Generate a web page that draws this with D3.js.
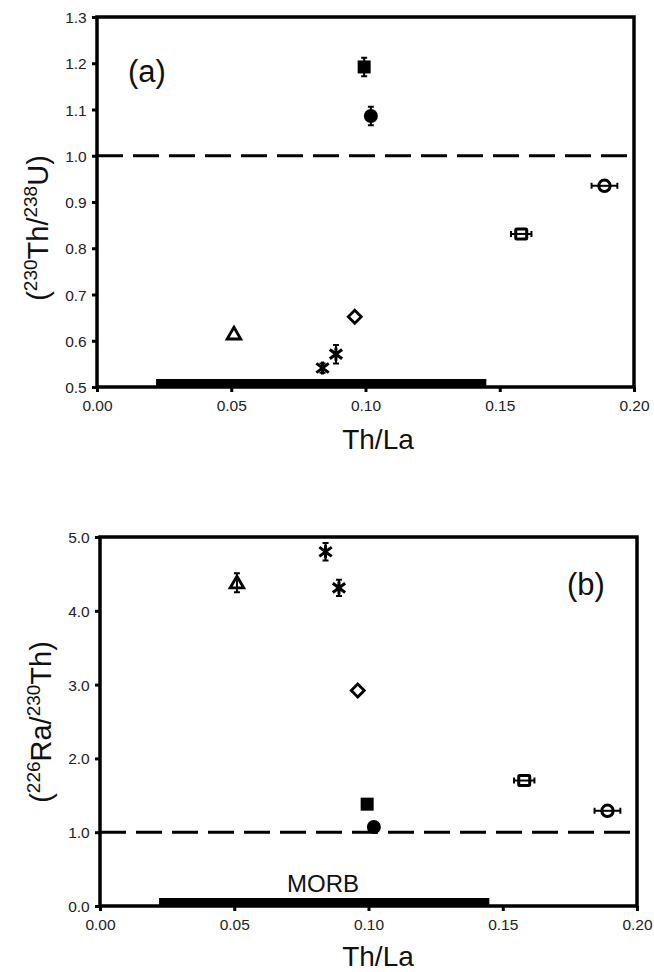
<!DOCTYPE html>
<html>
<head>
<meta charset="utf-8">
<script src="https://cdn.jsdelivr.net/npm/d3@7"></script>
<style>
  body { margin: 0; background: #fff; }
  svg { display: block; font-family: "Liberation Sans", Arial, sans-serif; }
</style>
</head>
<body>
<svg width="654" height="972"></svg>
<script>
// samples, in drawing order
const symbols  = ["triangle", "star", "star", "diamond", "squareFilled", "circleFilled", "squareOpen", "circleOpen"];
const thLa     = [0.051, 0.084, 0.089, 0.096, 0.0995, 0.102, 0.158, 0.189];
const thLaErr  = [0, 0, 0, 0, 0, 0, 0.0038, 0.0048];
const thU      = [0.615, 0.541, 0.571, 0.652, 1.192, 1.086, 0.831, 0.935];
const thUErr   = [0, 0.01, 0.02, 0, 0.02, 0.02, 0, 0];
const raTh     = [4.38, 4.80, 4.31, 2.92, 1.38, 1.07, 1.70, 1.29];
const raThErr  = [0.13, 0.12, 0.11, 0, 0, 0, 0, 0];
const morbRange = [0.022, 0.145];
const xTicks   = [0, 0.05, 0.10, 0.15, 0.20];
const yTicksA  = [0.5, 0.6, 0.7, 0.8, 0.9, 1.0, 1.1, 1.2, 1.3];
const yTicksB  = [0, 1, 2, 3, 4, 5];

const svg = d3.select("svg");

const panels = [
  {label: "(a)", labelPos: [128, 82], box: {left: 97, right: 634, top: 17, bottom: 387},
   y: thU, yErr: thUErr, yDomain: [0.5, 1.3], yTicks: yTicksA, yFmt: d3.format(".1f"),
   yTitle: ["(", "230", "Th/", "238", "U)"], yTitleX: 48, yTitleY: 228, titleY: 449, morbText: false},
  {label: "(b)", labelPos: [567, 595], box: {left: 100, right: 637, top: 537, bottom: 906},
   y: raTh, yErr: raThErr, yDomain: [0, 5], yTicks: yTicksB, yFmt: d3.format(".1f"),
   yTitle: ["(", "226", "Ra/", "230", "Th)"], yTitleX: 51, yTitleY: 722, titleY: 966, morbText: true}
];

function drawSymbol(g, type) {
  const s = 6.5;
  if (type === "triangle") {
    g.append("path").attr("d", `M0,${-s} L${s * 1.05},${s * 0.8} L${-s * 1.05},${s * 0.8} Z`)
      .attr("fill", "#fff").attr("stroke", "#000").attr("stroke-width", 2.8).attr("stroke-linejoin", "miter");
  } else if (type === "star") {
    const a = s * 0.95;
    g.append("path")
      .attr("d", `M${-a},${-a * 0.75} L${a},${a * 0.75} M${-a},${a * 0.75} L${a},${-a * 0.75} M0,${-a * 1.05} L0,${a * 1.05}`)
      .attr("stroke", "#000").attr("stroke-width", 3).attr("fill", "none");
  } else if (type === "diamond") {
    g.append("path").attr("d", `M0,${-s} L${s},0 L0,${s} L${-s},0 Z`)
      .attr("fill", "#fff").attr("stroke", "#000").attr("stroke-width", 2.8);
  } else if (type === "squareFilled") {
    g.append("rect").attr("x", -s).attr("y", -s).attr("width", 2 * s).attr("height", 2 * s).attr("fill", "#000");
  } else if (type === "circleFilled") {
    g.append("circle").attr("r", s + 0.5).attr("fill", "#000");
  } else if (type === "squareOpen") {
    g.append("rect").attr("x", -s + 1).attr("y", -s + 1.5).attr("width", 2 * s - 2).attr("height", 2 * s - 3)
      .attr("rx", 1).attr("fill", "#fff").attr("stroke", "#000").attr("stroke-width", 3);
  } else if (type === "circleOpen") {
    g.append("circle").attr("r", s - 0.8).attr("fill", "#fff").attr("stroke", "#000").attr("stroke-width", 3);
  }
}

panels.forEach(p => {
  const b = p.box;
  const x = d3.scaleLinear().domain([0, 0.2]).range([b.left, b.right]);
  const y = d3.scaleLinear().domain(p.yDomain).range([b.bottom, b.top]);
  const g = svg.append("g");

  // reference line at 1
  g.append("line")
    .attr("x1", b.left).attr("x2", b.right).attr("y1", y(1)).attr("y2", y(1))
    .attr("stroke", "#000").attr("stroke-width", 3).attr("stroke-dasharray", "26,10");

  // MORB range bar
  g.append("rect")
    .attr("x", x(morbRange[0])).attr("width", x(morbRange[1]) - x(morbRange[0]))
    .attr("y", b.bottom - 8).attr("height", 8).attr("fill", "#000");
  if (p.morbText) {
    g.append("text").attr("x", 323).attr("y", b.bottom - 14).attr("text-anchor", "middle")
      .attr("font-size", 24).attr("fill", "#111").text("MORB");
  }

  // axes
  const xAxis = d3.axisBottom(x).tickValues(xTicks).tickFormat(d3.format(".2f")).tickSize(5).tickSizeOuter(0);
  const yAxis = d3.axisLeft(y).tickValues(p.yTicks).tickFormat(p.yFmt).tickSize(5).tickSizeOuter(0);

  const gx = g.append("g").attr("transform", `translate(0,${b.bottom})`).call(xAxis);
  const gy = g.append("g").attr("transform", `translate(${b.left},0)`).call(yAxis);
  [gx, gy].forEach(ax => {
    ax.select(".domain").remove();
    ax.selectAll(".tick line").attr("stroke", "#000").attr("stroke-width", 3);
    ax.selectAll(".tick text").attr("font-size", 15.5).attr("fill", "#222")
      .attr("font-family", "Liberation Sans, Arial, sans-serif");
  });
  gx.selectAll(".tick text").attr("dy", "1.05em");
  gy.selectAll(".tick text").attr("dx", "-0.15em").attr("dy", "0.36em");

  // frame
  g.append("rect").attr("x", b.left).attr("y", b.top)
    .attr("width", b.right - b.left).attr("height", b.bottom - b.top)
    .attr("fill", "none").attr("stroke", "#000").attr("stroke-width", 3.5);

  // points with error bars
  const pts = g.selectAll(".pt").data(symbols.map((s, i) => ({
      type: s, x: thLa[i], xe: thLaErr[i], y: p.y[i], ye: p.yErr[i]})))
    .join("g").attr("class", "pt");

  pts.each(function(d) {
    const e = d3.select(this);
    const cx = x(d.x), cy = y(d.y);
    if (d.ye > 0) {
      const y0 = y(d.y - d.ye), y1 = y(d.y + d.ye);
      e.append("path").attr("d", `M${cx},${y0} L${cx},${y1} M${cx - 3},${y0} L${cx + 3},${y0} M${cx - 3},${y1} L${cx + 3},${y1}`)
        .attr("stroke", "#000").attr("stroke-width", 2).attr("fill", "none");
    }
    if (d.xe > 0) {
      const x0 = x(d.x - d.xe), x1 = x(d.x + d.xe);
      e.append("path").attr("d", `M${x0},${cy} L${x1},${cy} M${x0},${cy - 3} L${x0},${cy + 3} M${x1},${cy - 3} L${x1},${cy + 3}`)
        .attr("stroke", "#000").attr("stroke-width", 2).attr("fill", "none");
    }
    const m = e.append("g").attr("transform", `translate(${cx},${cy})`);
    drawSymbol(m, d.type);
    if (d.xe > 0) {
      m.append("line").attr("x1", -5).attr("x2", 5).attr("stroke", "#000").attr("stroke-width", 2);
    }
    if (d.type === "triangle" && d.ye > 0) {
      m.append("line").attr("y1", -5).attr("y2", 5).attr("stroke", "#000").attr("stroke-width", 2);
    }
  });

  // panel label
  g.append("text").attr("x", p.labelPos[0]).attr("y", p.labelPos[1])
    .attr("font-size", 31).attr("fill", "#111").text(p.label);

  // x title
  g.append("text").attr("x", 378).attr("y", p.titleY).attr("text-anchor", "middle")
    .attr("font-size", 28).attr("fill", "#111").text("Th/La");

  // y title with superscripts
  const t = g.append("text")
    .attr("transform", `translate(${p.yTitleX},${p.yTitleY}) rotate(-90)`)
    .attr("text-anchor", "middle").attr("font-size", 29).attr("fill", "#111");
  p.yTitle.forEach((s, i) => {
    const sup = i === 1 || i === 3;
    t.append("tspan").text(s)
      .attr("font-size", sup ? 19 : 29)
      .attr("dy", sup ? -11 : (i === 0 ? 0 : 11));
  });
});
</script>
</body>
</html>
